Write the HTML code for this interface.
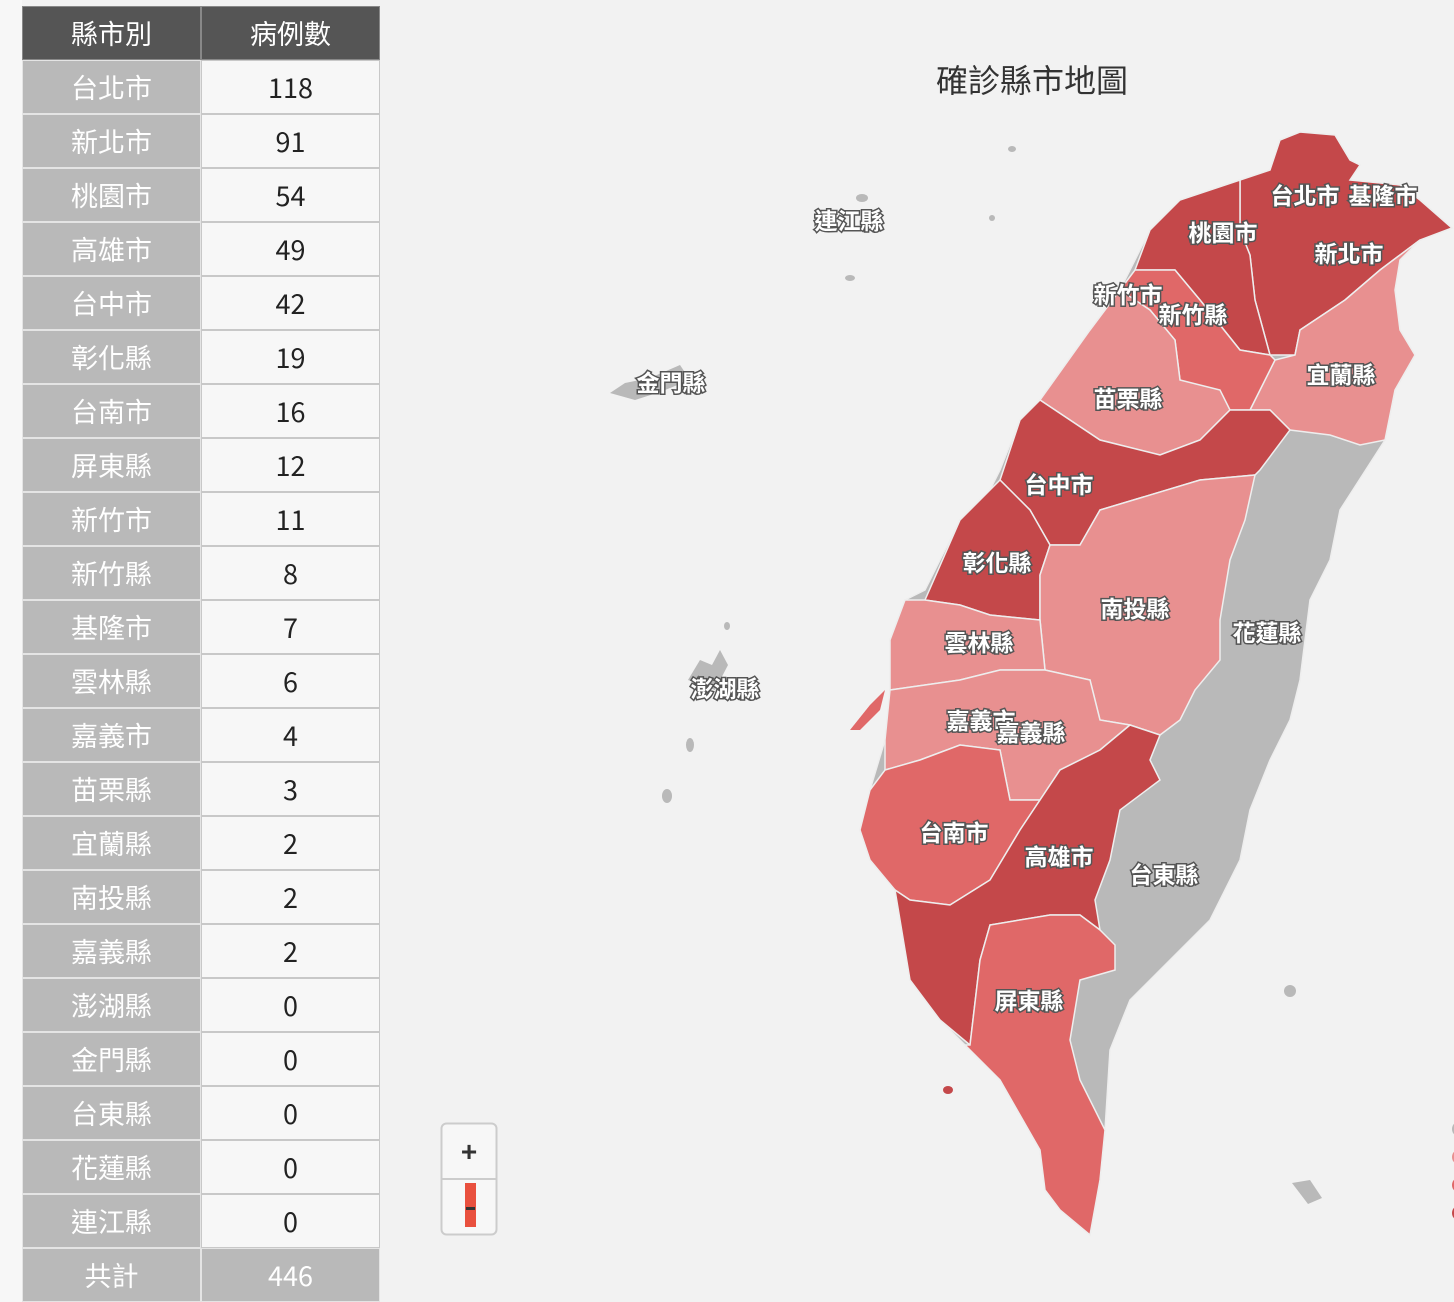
<!DOCTYPE html>
<html><head><meta charset="utf-8">
<style>
html,body{margin:0;padding:0;width:1454px;height:1302px;overflow:hidden;background:#f2f2f2;font-family:"Liberation Sans","Noto Sans CJK TC",sans-serif;}
#left{position:absolute;left:0;top:0;width:22px;height:1302px;background:#f7f7f7}
#tbl{position:absolute;left:22px;top:6px;width:360px;}
.cell{position:absolute;width:179px;height:54px;box-sizing:border-box;border:1px solid #d8d8d8;text-align:center;font-size:27px;line-height:52px;font-family:"Noto Sans CJK TC",sans-serif;}
.h{background:#555;color:#fff;border-color:#888}
.n{background:#b9b9b9;color:#fff;border-color:#e4e4e4}
.v{background:#f7f7f7;color:#222;border-color:#c8c8c8}
.t{background:#b9b9b9;color:#fff;border-color:#e4e4e4}
#map{position:absolute;left:383px;top:0}
.lbl{font-family:"Noto Sans CJK TC",sans-serif;font-weight:bold;font-size:23px;fill:#fff;stroke:#555;stroke-width:3px;paint-order:stroke;text-anchor:middle}
</style></head><body>
<div id="left"></div>
<div id="tbl"></div>
<svg id="map" width="1071" height="1302" viewBox="383 0 1071 1302">
<text x="1032" y="92" font-size="32" fill="#333" text-anchor="middle" font-family="Noto Sans CJK TC,sans-serif">確診縣市地圖</text>
<g id="regions"></g>
<g id="islands" fill="#b9b9b9">
<ellipse cx="1012" cy="149" rx="4" ry="3"/><ellipse cx="992" cy="218" rx="3" ry="3"/><ellipse cx="862" cy="198" rx="6" ry="4"/><ellipse cx="850" cy="278" rx="5" ry="3"/>
<path d="M610 393 L625 383 L650 378 L680 365 L690 380 L660 392 L635 400 Z"/>
<path d="M688 680 L700 660 L712 665 L720 650 L728 665 L715 690 Z"/><ellipse cx="690" cy="745" rx="4" ry="7"/><ellipse cx="667" cy="796" rx="5" ry="7"/><ellipse cx="727" cy="626" rx="3" ry="4"/>
<ellipse cx="1290" cy="991" rx="6" ry="6"/><path d="M1292 1183 L1310 1180 L1322 1198 L1308 1204 Z"/>
<path d="M850 730 L870 705 L885 690 L880 710 L860 730 Z" fill="#e06868"/><ellipse cx="948" cy="1090" rx="5" ry="4" fill="#c4484a"/>
</g>
<g id="labels"></g>
<g>
<rect x="441.5" y="1123.5" width="55" height="111" rx="5" fill="#f7f7f7" stroke="#ccc" stroke-width="2"/>
<line x1="442" y1="1179" x2="496" y2="1179" stroke="#ccc" stroke-width="2"/>
<text x="469" y="1161" font-size="28" font-weight="bold" fill="#333" text-anchor="middle">+</text>
<rect x="465" y="1183" width="11" height="44" fill="#e9503e"/>
<rect x="466" y="1207" width="9" height="3" fill="#333"/>
</g>
<g>
<circle cx="1460" cy="1129" r="8" fill="#b9b9b9"/><circle cx="1460" cy="1157" r="8" fill="#e89090"/><circle cx="1460" cy="1185" r="8" fill="#e06868"/><circle cx="1460" cy="1213" r="8" fill="#c4484a"/>
</g>
</svg>
<script>
const counties=["台北市","新北市","桃園市","高雄市","台中市","彰化縣","台南市","屏東縣","新竹市","新竹縣","基隆市","雲林縣","嘉義市","苗栗縣","宜蘭縣","南投縣","嘉義縣","澎湖縣","金門縣","台東縣","花蓮縣","連江縣"];
const cases=[118,91,54,49,42,19,16,12,11,8,7,6,4,3,2,2,2,0,0,0,0,0];
const tbl=document.getElementById('tbl');
function cell(txt,cls,col,r,name){const d=document.createElement('div');d.className='cell '+cls;
d.style.left=(col*179)+'px';d.style.top=(r*54)+'px';d.textContent=txt;


tbl.appendChild(d);}
cell('縣市別','h',0,0,'county-header');cell('病例數','h',1,0,'cases-header');
counties.forEach((c,i)=>{cell(c,'n',0,i+1,'county-cell');cell(cases[i],'v',1,i+1,'case-count-cell');});
cell('共計','t',0,counties.length+1,'total-label');cell(cases.reduce((a,b)=>a+b,0),'t',1,counties.length+1,'total-value');
function color(v){return v>=19?'#c4484a':v>=7?'#e06868':v>0?'#e89090':'#b9b9b9';}
const cnt=n=>cases[counties.indexOf(n)];
const shapes=[
["outline","M1300 132 L1335 135 L1350 160 L1360 165 L1350 180 L1400 185 L1420 200 L1452 228 L1420 240 L1400 260 L1395 290 L1400 330 L1415 355 L1395 390 L1385 440 L1340 510 L1330 560 L1310 600 L1300 680 L1290 720 L1270 760 L1250 810 L1240 860 L1210 920 L1170 960 L1130 1000 L1110 1050 L1105 1130 L1100 1180 L1090 1235 L1060 1210 L1045 1190 L1040 1150 L1000 1080 L965 1045 L940 1020 L910 980 L895 890 L870 860 L860 830 L870 790 L885 740 L895 680 L890 640 L905 600 L925 590 L960 520 L990 490 L1000 470 L1020 420 L1040 400 L1090 330 L1120 290 L1150 230 L1180 200 L1240 180 L1270 170 L1280 140 Z",0],
["新北市","M1240 180 L1270 170 L1280 140 L1300 132 L1335 135 L1350 160 L1360 165 L1350 180 L1400 185 L1420 200 L1452 228 L1420 240 L1380 270 L1345 300 L1300 330 L1295 355 L1270 355 L1255 300 L1250 255 L1240 230 Z"],
["宜蘭縣","M1300 330 L1345 300 L1380 270 L1420 240 L1400 260 L1395 290 L1400 330 L1415 355 L1395 390 L1385 440 L1360 445 L1330 435 L1290 430 L1270 410 L1250 410 L1275 360 L1295 355 Z"],
["桃園市","M1150 230 L1180 200 L1240 180 L1240 230 L1250 255 L1255 300 L1270 355 L1240 350 L1200 300 L1175 270 L1135 270 Z"],
["新竹縣","M1135 270 L1175 270 L1200 300 L1240 350 L1270 355 L1275 360 L1250 410 L1220 410 L1180 380 L1175 340 L1150 310 L1120 290 Z"],
["苗栗縣","M1090 330 L1120 290 L1150 310 L1175 340 L1180 380 L1220 390 L1230 410 L1200 440 L1160 455 L1100 440 L1040 400 Z"],
["台中市","M1040 400 L1100 440 L1160 455 L1200 440 L1230 410 L1250 410 L1270 410 L1290 430 L1260 470 L1255 475 L1200 480 L1100 510 L1080 545 L1050 545 L1030 510 L1000 480 L1020 420 Z"],
["彰化縣","M1000 480 L1030 510 L1050 545 L1040 575 L1040 620 L990 615 L960 605 L925 600 L960 520 L990 490 Z"],
["南投縣","M1100 510 L1200 480 L1255 475 L1245 520 L1230 560 L1220 620 L1220 660 L1195 690 L1180 720 L1160 735 L1130 725 L1100 720 L1090 680 L1045 670 L1040 620 L1040 575 L1050 545 L1080 545 Z"],
["雲林縣","M925 600 L960 605 L990 615 L1040 620 L1045 670 L1000 670 L960 680 L890 690 L890 640 L905 600 Z"],
["嘉義縣","M890 690 L960 680 L1000 670 L1045 670 L1090 680 L1100 720 L1130 725 L1100 750 L1060 770 L1040 800 L1010 800 L1000 750 L960 745 L920 760 L885 770 L885 740 Z"],
["台南市","M885 770 L920 760 L960 745 L1000 750 L1010 800 L1040 800 L1020 830 L990 880 L950 905 L910 900 L895 890 L870 860 L860 830 L870 790 Z"],
["高雄市","M1040 800 L1060 770 L1100 750 L1130 725 L1160 735 L1150 760 L1160 780 L1120 810 L1110 860 L1095 900 L1100 930 L1080 915 L1050 915 L990 925 L980 960 L970 1045 L940 1020 L910 980 L895 890 L910 900 L950 905 L990 880 L1020 830 Z"],
["屏東縣","M990 925 L1050 915 L1080 915 L1100 930 L1115 945 L1115 970 L1080 980 L1070 1040 L1080 1080 L1105 1130 L1100 1180 L1090 1235 L1060 1210 L1045 1190 L1040 1150 L1000 1080 L965 1045 L970 1045 L980 960 Z"]
];
const rg=document.getElementById('regions');
shapes.forEach(s=>{const p=document.createElementNS('http://www.w3.org/2000/svg','path');
p.setAttribute('d',s[1]);p.setAttribute('fill',s[0]==='outline'?'#b9b9b9':color(cnt(s[0])));
p.setAttribute('stroke','#eee');p.setAttribute('stroke-width','1.5');


rg.appendChild(p);});
const labels=[["台北市",1305,204],["基隆市",1383,204],["桃園市",1223,241],["新北市",1349,262],["新竹市",1128,303],["新竹縣",1193,323],["連江縣",849,229],["金門縣",671,391],["苗栗縣",1128,407],["宜蘭縣",1341,383],["台中市",1059,493],["彰化縣",997,571],["南投縣",1135,617],["雲林縣",979,651],["花蓮縣",1267,641],["澎湖縣",725,697],["嘉義市",981,729],["嘉義縣",1031,741],["台南市",954,841],["高雄市",1059,865],["台東縣",1164,883],["屏東縣",1029,1009]];
const lg=document.getElementById('labels');
labels.forEach(l=>{const t=document.createElementNS('http://www.w3.org/2000/svg','text');
t.setAttribute('x',l[1]);t.setAttribute('y',l[2]);t.setAttribute('class','lbl');t.textContent=l[0];


lg.appendChild(t);});
</script>
</body></html>
